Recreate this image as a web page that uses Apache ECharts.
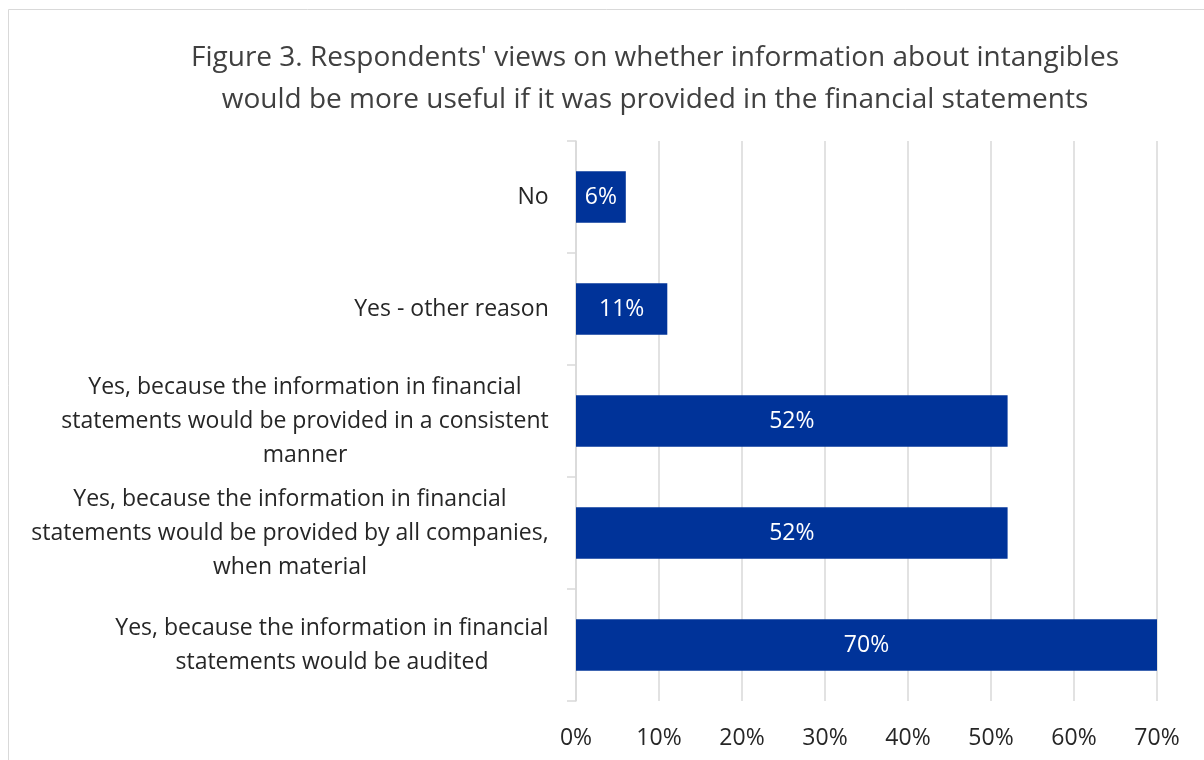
<!DOCTYPE html>
<html>
<head>
<meta charset="utf-8">
<script src="https://cdn.jsdelivr.net/npm/echarts@6/dist/echarts.min.js"></script>
<style>
  html, body { margin: 0; padding: 0; background: #ffffff; }
  #chart { width: 1204px; height: 760px; }
</style>
</head>
<body>
<div id="chart"></div>
<script>
// Survey answers, listed top to bottom
const categories = [
  'No',
  'Yes - other reason',
  'Yes, because the information in financial\nstatements would be provided in a consistent\nmanner',
  'Yes, because the information in financial\nstatements would be provided by all companies,\nwhen material',
  'Yes, because the information in financial\nstatements would be audited'
];
// Share of respondents (%)
const shares = [6, 11, 52, 52, 70];
// Value axis ticks (%)
const axisMin = 0;
const axisMax = 70;
const axisStep = 10;

const titleText = "Figure 3. Respondents' views on whether information about intangibles\nwould be more useful if it was provided in the financial statements";

const FONT = 'Open Sans';
const LABEL_SIZE = 23;

// Wrapped category labels: the block is right-aligned to the axis while
// each line is centred inside it, so every label gets its own rich style
// whose width is that of its longest line.
const measureCtx = document.createElement('canvas').getContext('2d');
measureCtx.font = LABEL_SIZE + 'px "' + FONT + '"';
const labelRich = {};
categories.forEach((c, i) => {
  const w = Math.max(...c.split('\n').map(l => measureCtx.measureText(l).width));
  labelRich['c' + i] = {
    width: Math.ceil(w) + 2,
    align: 'center',
    fontFamily: FONT,
    fontSize: LABEL_SIZE,
    lineHeight: 34,
    color: '#262626'
  };
});

const chart = echarts.init(document.getElementById('chart'), null, { renderer: 'canvas' });

chart.setOption({
  backgroundColor: '#ffffff',
  animation: false,
  textStyle: { fontFamily: FONT },
  title: {
    text: titleText,
    left: 650,
    top: 32,
    textAlign: 'center',
    textStyle: {
      fontFamily: FONT,
      fontSize: 28,
      fontWeight: 'normal',
      color: '#404040',
      lineHeight: 42
    }
  },
  graphic: [{
    type: 'rect',
    shape: { x: 8.5, y: 9.5, width: 1220, height: 780 },
    style: { fill: 'none', stroke: '#d9d9d9', lineWidth: 1 },
    silent: true,
    z: -10
  }],
  grid: { left: 576, right: 47, top: 141, bottom: 59, containLabel: false },
  xAxis: {
    type: 'value',
    min: axisMin,
    max: axisMax,
    interval: axisStep,
    axisLine: { show: false },
    axisTick: { show: false },
    axisLabel: {
      formatter: '{value}%',
      fontFamily: FONT,
      fontSize: LABEL_SIZE,
      color: '#262626',
      margin: 26
    },
    splitLine: { show: true, lineStyle: { color: '#d9d9d9', width: 1.5 } }
  },
  yAxis: {
    type: 'category',
    data: categories,
    inverse: true,
    axisLine: { show: true, lineStyle: { color: '#d9d9d9', width: 1.5 } },
    axisTick: { show: true, length: 9, lineStyle: { color: '#d9d9d9', width: 1.5 } },
    axisLabel: {
      margin: 26,
      align: 'right',
      formatter: (value, index) =>
        value.split('\n').map(l => '{c' + index + '|' + l + '}').join('\n'),
      rich: labelRich
    }
  },
  series: [{
    type: 'bar',
    data: shares,
    barWidth: '46%',
    itemStyle: { color: '#003399' },
    label: {
      show: true,
      position: 'inside',
      formatter: '{c}%',
      color: '#ffffff',
      fontFamily: FONT,
      fontSize: LABEL_SIZE
    }
  }]
});
</script>
</body>
</html>
